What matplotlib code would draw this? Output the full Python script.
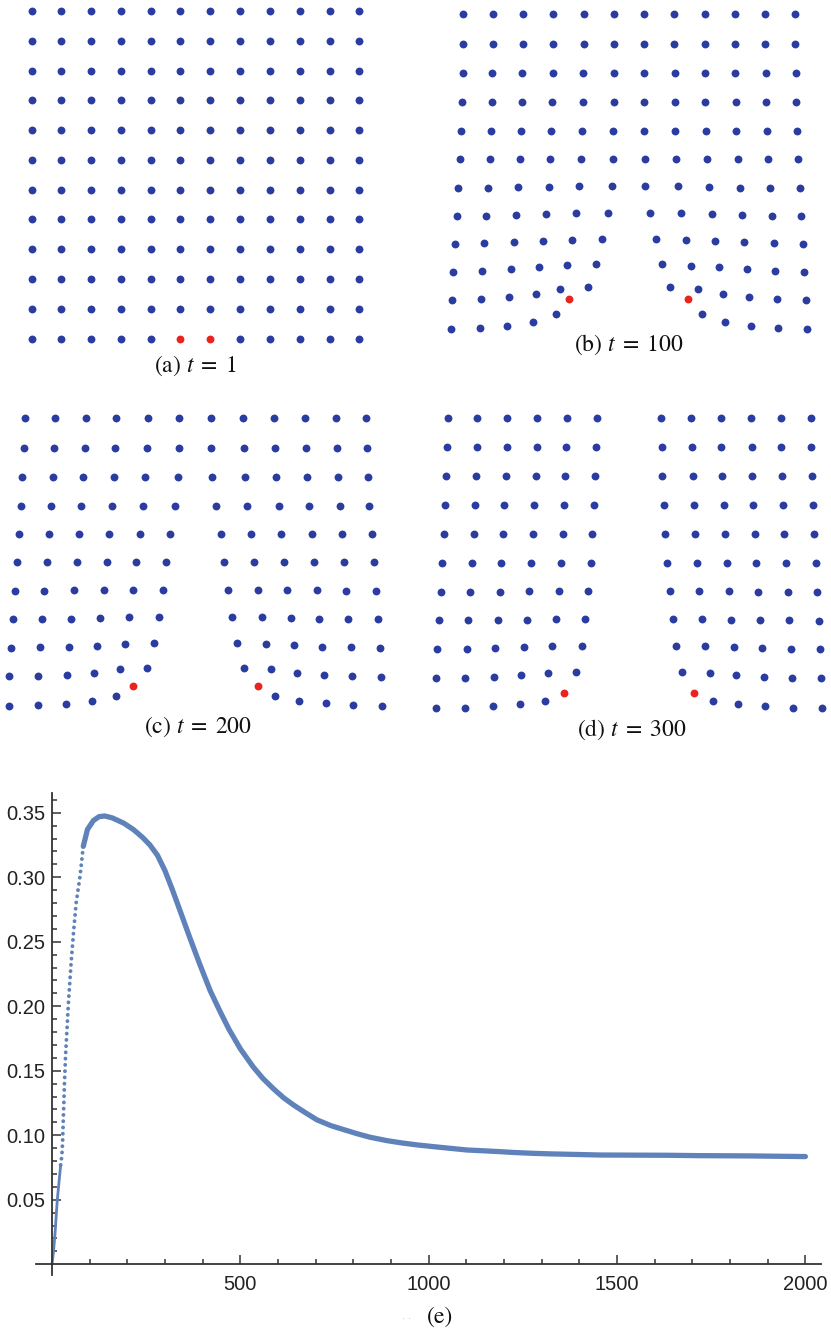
import numpy as np
import matplotlib
matplotlib.use("Agg")
import matplotlib.pyplot as plt

plt.rcParams['font.family'] = ['Liberation Sans', 'DejaVu Sans']
plt.rcParams['mathtext.fontset'] = 'stix'

BLUE = '#2b3ca0'
RED = '#e8241f'
CURVE = '#5f82ba'
AXC = '#333333'

#-------------------------------------------------------------------------------#
# particle positions for each snapshot (x to the right, y downwards, spacing ~90)
a_cols = [95, 183, 273, 363, 452, 541, 631, 720, 810, 899, 989, 1078]
a_rows = [33, 122, 212, 301, 391, 480, 569, 658, 748, 837, 927, 1016]
a_red = [(11, 5), (11, 6)]

b_x = [
  [145, 234, 324, 415, 506, 597, 687, 778, 869, 959, 1050, 1140],
  [145, 234, 323, 415, 506, 597, 687, 778, 870, 960, 1051, 1141],
  [143, 232, 322, 413, 505, 596, 687, 779, 870, 961, 1052, 1142],
  [141, 230, 321, 412, 504, 596, 688, 780, 871, 962, 1053, 1144],
  [138, 228, 318, 409, 501, 594, 688, 781, 873, 964, 1056, 1146],
  [134, 225, 315, 406, 499, 593, 689, 784, 877, 968, 1059, 1150],
  [130, 220, 310, 401, 493, 591, 691, 790, 883, 974, 1065, 1155],
  [125, 214, 304, 393, 484, 578, 705, 799, 891, 981, 1070, 1159],
  [120, 208, 296, 383, 472, 561, 723, 813, 901, 988, 1076, 1163],
  [115, 202, 288, 372, 456, 542, 741, 828, 911, 995, 1081, 1168],
  [110, 198, 282, 362, 436, 518, 766, 848, 924, 1003, 1087, 1173],
  [108, 195, 277, 354, 422, 462, 820, 862, 930, 1007, 1090, 1176],
]
b_y = [
  [42] * 12,
  [131] * 12,
  [218] * 12,
  [305] * 12,
  [392] * 12,
  [477] * 12,
  [563, 563, 561, 560, 557, 558, 558, 558, 560, 563, 563, 563],
  [647, 647, 645, 642, 640, 640, 640, 640, 642, 645, 647, 648],
  [731, 729, 727, 722, 720, 718, 718, 720, 723, 727, 730, 731],
  [815, 813, 808, 801, 796, 793, 793, 797, 802, 808, 813, 815],
  [901, 898, 891, 881, 868, 860, 860, 868, 882, 891, 897, 901],
  [988, 985, 977, 965, 943, 897, 897, 943, 965, 977, 984, 988],
]
b_red = [(11, 5), (11, 6)]

c_x = [
  [74, 165, 257, 349, 443, 538, 633, 730, 823, 916, 1008, 1098],
  [72, 162, 254, 346, 441, 537, 634, 731, 825, 918, 1010, 1101],
  [67, 158, 250, 342, 436, 534, 637, 735, 829, 922, 1014, 1104],
  [63, 153, 244, 336, 429, 524, 648, 742, 837, 928, 1019, 1108],
  [58, 147, 237, 328, 420, 510, 662, 753, 844, 935, 1025, 1115],
  [51, 140, 230, 320, 409, 499, 673, 763, 853, 942, 1032, 1121],
  [44, 133, 222, 311, 399, 488, 684, 773, 862, 951, 1039, 1128],
  [38, 126, 213, 300, 388, 477, 696, 785, 872, 958, 1045, 1134],
  [33, 120, 206, 290, 375, 462, 710, 797, 881, 966, 1052, 1139],
  [28, 115, 200, 282, 359, 442, 731, 814, 890, 972, 1057, 1144],
  [26, 113, 197, 275, 347, 398, 774, 825, 897, 977, 1060, 1147],
]
c_y = [
  [115] * 12,
  [203] * 12,
  [290] * 12,
  [377] * 12,
  [462] * 12,
  [547] * 12,
  [632, 632, 631, 630, 629, 629, 629, 629, 630, 631, 632, 632],
  [718, 718, 716, 714, 712, 710, 711, 712, 714, 716, 718, 718],
  [803, 802, 800, 797, 792, 790, 790, 792, 796, 800, 802, 804],
  [889, 888, 885, 879, 868, 863, 863, 868, 879, 885, 888, 890],
  [978, 976, 971, 963, 948, 917, 917, 948, 963, 970, 976, 978],
]
c_red = [(10, 5), (10, 6)]

d_x = [
  [98, 187, 277, 367, 456, 545, 738, 828, 918, 1008, 1097, 1187],
  [96, 185, 275, 365, 454, 543, 740, 830, 919, 1010, 1099, 1188],
  [93, 182, 272, 362, 451, 541, 742, 833, 922, 1012, 1101, 1190],
  [90, 179, 268, 358, 448, 537, 746, 837, 926, 1015, 1105, 1193],
  [87, 176, 264, 353, 443, 532, 751, 841, 930, 1019, 1108, 1197],
  [82, 171, 259, 348, 437, 527, 757, 847, 936, 1024, 1113, 1202],
  [77, 166, 254, 342, 431, 519, 764, 853, 941, 1030, 1119, 1207],
  [72, 160, 248, 336, 423, 511, 773, 861, 949, 1036, 1123, 1212],
  [67, 155, 241, 327, 412, 500, 784, 871, 957, 1042, 1128, 1216],
  [64, 151, 237, 319, 398, 483, 800, 884, 964, 1047, 1132, 1219],
  [62, 150, 234, 314, 390, 446, 838, 895, 968, 1049, 1133, 1221],
]
d_y = [
  [113] * 12,
  [201] * 12,
  [289] * 12,
  [376] * 12,
  [462] * 12,
  [548] * 12,
  [635, 635, 635, 634, 633, 632, 632, 633, 634, 635, 635, 635],
  [721, 721, 720, 719, 718, 716, 716, 717, 719, 720, 721, 722],
  [807, 806, 804, 802, 799, 797, 797, 799, 802, 804, 806, 808],
  [895, 894, 891, 886, 880, 876, 876, 880, 886, 891, 894, 895],
  [985, 983, 978, 971, 962, 940, 940, 962, 972, 979, 983, 985],
]
d_red = [(10, 5), (10, 6)]

#-------------------------------------------------------------------------------#
# order parameter vs time
t_start = [0, 4, 8, 14, 19, 23]
v_start = [0, 0.010, 0.024, 0.050, 0.065, 0.077]
t_rise = [23, 26, 28, 29, 30, 31, 33, 36, 43, 50, 57, 64, 74, 83]
v_rise = [0.077, 0.084, 0.094, 0.104, 0.113, 0.122, 0.140, 0.162, 0.200,
          0.231, 0.257, 0.280, 0.300, 0.324]
t_fall = [83, 94, 110, 125, 140, 160, 190, 216, 240, 260, 280, 300, 320, 340,
          366, 393, 420, 446, 470, 500, 534, 560, 588, 615, 641, 670, 703, 740,
          773, 810, 844, 890, 930, 970, 1012, 1060, 1101, 1150, 1189, 1230,
          1278, 1320, 1366, 1410, 1455, 1540, 1632, 1720, 1850, 2000]
v_fall = [0.324, 0.337, 0.344, 0.347, 0.3475, 0.346, 0.342, 0.337, 0.331,
          0.325, 0.317, 0.305, 0.290, 0.274, 0.253, 0.232, 0.212, 0.196, 0.182,
          0.167, 0.153, 0.144, 0.136, 0.129, 0.1235, 0.118, 0.112, 0.1075,
          0.1045, 0.1012, 0.0985, 0.0958, 0.0940, 0.0925, 0.0912, 0.0898,
          0.0886, 0.0879, 0.0873, 0.0866, 0.0860, 0.0856, 0.0853, 0.0850,
          0.0847, 0.0846, 0.0845, 0.0842, 0.0840, 0.0835]

x_major = [500, 1000, 1500, 2000]
y_major = [0.05, 0.10, 0.15, 0.20, 0.25, 0.30, 0.35]
y_labels = ['0.05', '0.10', '0.15', '0.20', '0.25', '0.30', '0.35']

#-------------------------------------------------------------------------------#
W, H = 831, 1331
fig = plt.figure(figsize=(W / 100, H / 100), dpi=100)


def Panel(rect, xs, ys, red, label, label_xy, xmax):
  ax = fig.add_axes(rect)
  x = np.array([v for row in xs for v in row], dtype=float)
  y = np.array([v for row in ys for v in row], dtype=float)
  ncol = len(xs[0])
  is_red = np.zeros(len(x), dtype=bool)
  for (r, c) in red:
    is_red[r * ncol + c] = True
  ax.scatter(x[~is_red], y[~is_red], s=32, c=BLUE, linewidths=0)
  ax.scatter(x[is_red], y[is_red], s=32, c=RED, linewidths=0)
  ax.text(label_xy[0], label_xy[1], label, ha='center', va='center',
          fontsize=17, family='STIXGeneral', color='#111111')
  ax.set_xlim(0, xmax)
  ax.set_ylim(1140, 0)
  ax.axis('off')
  return ax


a_xs = [a_cols for r in a_rows]
a_ys = [[r] * len(a_cols) for r in a_rows]

top = 1 - 380 / H
mid = 1 - 760 / H
Panel([0, top, 415 / W, 380 / H], a_xs, a_ys, a_red,
      r'(a) $t\;=\;1$', (585, 1097), 1245)
Panel([415 / W, top, 416 / W, 380 / H], b_x, b_y, b_red,
      r'(b) $t\;=\;100$', (640, 1035), 1248)
Panel([0, mid, 415 / W, 380 / H], c_x, c_y, c_red,
      r'(c) $t\;=\;200$', (593, 1040), 1245)
Panel([415 / W, mid, 416 / W, 380 / H], d_x, d_y, d_red,
      r'(d) $t\;=\;300$', (650, 1048), 1248)

#-------------------------------------------------------------------------------#
ax = fig.add_axes([36.2 / W, 1 - 1274.6 / H, 785 / W, 481.2 / H])
ax.plot(t_start, v_start, color=CURVE, lw=2.0, solid_capstyle='round')
ax.plot(t_rise, v_rise, color=CURVE, lw=2.8, linestyle=(0, (0.01, 1.6)),
        dash_capstyle='round')
ax.plot(t_fall, v_fall, color=CURVE, lw=3.8, solid_capstyle='round',
        solid_joinstyle='round')

ax.set_xlim(-42, 2042)
ax.set_ylim(-0.008, 0.365)
for s in ['top', 'right']:
  ax.spines[s].set_visible(False)
for s in ['left', 'bottom']:
  ax.spines[s].set_position(('data', 0))
  ax.spines[s].set_color(AXC)
  ax.spines[s].set_linewidth(1.3)

ax.set_xticks(x_major)
ax.set_xticklabels([str(v) for v in x_major])
ax.set_xticks(np.arange(100, 2001, 100), minor=True)
ax.set_yticks(y_major)
ax.set_yticklabels(y_labels)
ax.set_yticks(np.arange(0.01, 0.361, 0.01), minor=True)

ax.tick_params(which='both', direction='in', color=AXC, width=1.1)
ax.tick_params(which='major', length=6.5, labelsize=14.5, labelcolor='#222222')
ax.tick_params(which='minor', length=3.5)
ax.tick_params(axis='x', which='major', pad=8)
ax.tick_params(axis='y', which='major', pad=5)

fig.text(440 / W, 1 - 1317 / H, '(e)', ha='center', va='center', fontsize=17,
         family='STIXGeneral', color='#111111')
fig.text(406 / W, 1 - 1319 / H, '\u00b7 \u00b7', ha='center', va='center',
         fontsize=7, color='#bbbbbb')

fig.savefig('out.png', dpi=100)
